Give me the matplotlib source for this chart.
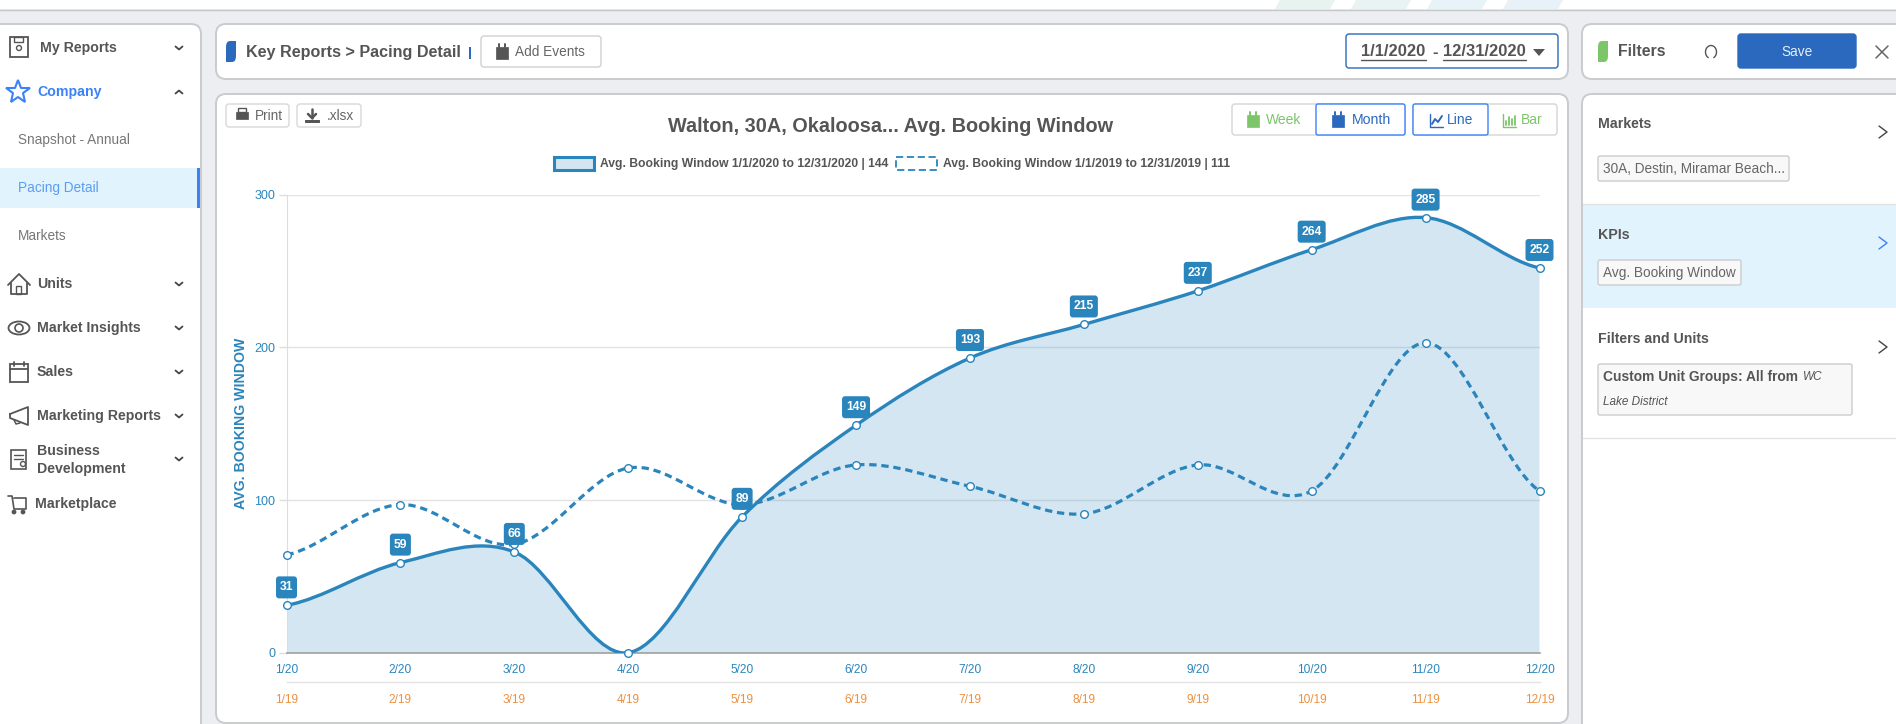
import matplotlib
matplotlib.use('Agg')
import matplotlib.pyplot as plt
from matplotlib.patches import FancyBboxPatch, Rectangle, Polygon, PathPatch, Circle, Ellipse
from matplotlib.path import Path
from matplotlib.transforms import IdentityTransform
import numpy as np

plt.rcParams['font.family'] = ['Liberation Sans', 'DejaVu Sans']

# chart data
labels_2020 = ['1/20', '2/20', '3/20', '4/20', '5/20', '6/20', '7/20', '8/20', '9/20', '10/20', '11/20', '12/20']
labels_2019 = ['1/19', '2/19', '3/19', '4/19', '5/19', '6/19', '7/19', '8/19', '9/19', '10/19', '11/19', '12/19']
values_2020 = [31, 59, 66, 0, 89, 149, 193, 215, 237, 264, 285, 252]
values_2019 = [64, 97, 71, 121, 97, 123, 109, 91, 123, 106, 203, 106]
y_ticks = [0, 100, 200, 300]

# page text
menu_items = ['My Reports', 'Company', 'Units', 'Market Insights', 'Sales', 'Marketing Reports', 'Marketplace']
legend_2020 = 'Avg. Booking Window 1/1/2020 to 12/31/2020 | 144'
legend_2019 = 'Avg. Booking Window 1/1/2019 to 12/31/2019 | 111'
chart_title = 'Walton, 30A, Okaloosa... Avg. Booking Window'

W, H = 1896, 724
BLUE = '#2a85bd'
BTN = '#2a69bd'
LINK = '#3b82f6'
GREEN = '#7cc569'
GREY = '#555555'
BORDER = '#c9cbcd'

fig = plt.figure(figsize=(W / 100, H / 100), dpi=100, facecolor='#eceef2')

# page axes in pixels, everything that is not the chart goes here
bg = fig.add_axes([0, 0, 1, 1])
bg.set_xlim(0, W)
bg.set_ylim(H, 0)
bg.axis('off')


def card(x0, y0, x1, y1, fc='white', ec=BORDER, lw=1.4, r=10, z=1):
    p = FancyBboxPatch((x0 + r, y0 + r), x1 - x0 - 2 * r, y1 - y0 - 2 * r,
                       boxstyle='round,pad=%d,rounding_size=%d' % (r, r), fc=fc, ec=ec, lw=lw, zorder=z)
    bg.add_patch(p)


def txt(x, y, s, size=9.8, color=GREY, weight='normal', ha='left', style='normal'):
    return bg.text(x, y, s, fontsize=size, color=color, fontweight=weight, ha=ha, va='center',
                   fontstyle=style, zorder=5)


def line(xs, ys, color=GREY, lw=1.2):
    bg.plot(xs, ys, color=color, lw=lw, zorder=5, solid_capstyle='round', solid_joinstyle='round')


def rect(x, y, w, h, fc='none', ec=GREY, lw=1.2):
    bg.add_patch(Rectangle((x, y), w, h, fc=fc, ec=ec, lw=lw, zorder=5))


def chevron(x, y, up=False, color='#444444'):
    d = -3 if up else 3
    line([x - 3.5, x, x + 3.5], [y - d / 2, y + d / 2, y - d / 2], color=color, lw=1.3)


def arrow_right(x, y, color='#444444'):
    line([x - 4, x + 4, x - 4], [y - 6, y, y + 6], color=color, lw=1)


def leaf(x0, y0, x1, y1, color):
    verts = [(x0, y1), (x1 - 4, y1), (x1, y1), (x1, y1 - 6), (x1, y0), (x0 + 4, y0), (x0, y0), (x0, y0 + 6),
             (x0, y1)]
    codes = [Path.MOVETO, Path.LINETO, Path.CURVE3, Path.CURVE3, Path.LINETO, Path.LINETO, Path.CURVE3, Path.CURVE3,
             Path.CLOSEPOLY]
    bg.add_patch(PathPatch(Path(verts, codes), fc=color, ec='none', zorder=5))


def small_cal(x, y, color):
    rect(x - 6, y - 6, 12, 12, fc=color, ec=color, lw=0.5)
    line([x - 3, x - 3], [y - 9, y - 6], color=color, lw=1.4)
    line([x + 3, x + 3], [y - 9, y - 6], color=color, lw=1.4)


# top bar with the faint stripes
bg.add_patch(Rectangle((0, 0), W, 9, fc='white', ec='none', zorder=1))
line([0, W], [9.5, 9.5], color='#c5c7c9', lw=1)
for x0, c in zip([1271, 1347, 1423, 1499], ['#e8f3f0', '#e8f3f2', '#e8f2f9', '#e9f1f8']):
    bg.add_patch(Polygon([(x0 + 4, 9), (x0 + 59, 9), (x0 + 64, 0), (x0 + 9, 0)], fc=c, ec='none', zorder=2))

# cards
card(-20, 24, 201, 760)
card(216, 24, 1568, 79)
card(216, 94, 1568, 723)
card(1582, 24, 1930, 79)
card(1582, 94, 1930, 760)

# sidebar
bg.add_patch(Rectangle((0, 168), 197, 40, fc='#e1f4fd', ec='none', zorder=2))
bg.add_patch(Rectangle((197, 168), 3, 40, fc=LINK, ec='none', zorder=3))
side_y = [48, 92, 284, 328, 372, 416, 504]
side_x = [40, 37, 37, 37, 37, 37, 35]
for name, x, y in zip(menu_items, side_x, side_y):
    txt(x, y, name, size=10.2, weight='bold', color=LINK if name == 'Company' else GREY)
txt(37, 451, 'Business', size=10.2, weight='bold')
txt(37, 469, 'Development', size=10.2, weight='bold')
txt(18, 140, 'Snapshot - Annual', color='#777777')
txt(18, 188, 'Pacing Detail', color='#5b9cf5')
txt(18, 236, 'Markets', color='#777777')
for y in [48, 284, 328, 372, 416, 459]:
    chevron(179, y)
chevron(179, 92, up=True)

# sidebar icons
rect(10, 37, 18, 20, lw=1.3)
rect(14, 37, 9, 5, lw=1)
bg.add_patch(Circle((19, 48), 2.5, fc='none', ec=GREY, lw=1, zorder=5))
bg.plot([18.5], [92], marker='*', ms=18, mfc='none', mec=LINK, mew=1.5, zorder=5)
line([8, 19, 30], [285, 274, 285], lw=1.3)
line([11, 11, 27, 27], [283, 294, 294, 283], lw=1.3)
rect(16, 286, 5, 8, lw=1)
bg.add_patch(Ellipse((19, 328), 21, 13, fc='none', ec=GREY, lw=1.3, zorder=5))
bg.add_patch(Circle((19, 328), 4, fc='none', ec=GREY, lw=1.2, zorder=5))
rect(10, 364, 18, 18, lw=1.3)
line([10, 28], [369, 369], lw=1.3)
line([14, 14], [362, 366], lw=1.3)
line([24, 24], [362, 366], lw=1.3)
line([10, 28, 28, 10, 10], [414, 407, 425, 418, 414], lw=1.3)
line([14, 16, 20], [420, 424, 423], lw=1.1)
rect(11, 450, 15, 19, lw=1.2)
line([14, 23], [455, 455], lw=1)
line([14, 23], [459, 459], lw=1)
bg.add_patch(Circle((23, 464), 2.5, fc='white', ec=GREY, lw=1, zorder=6))
line([8, 12, 14, 26, 26, 14], [496, 496, 509, 509, 498, 498], lw=1.2)
bg.add_patch(Circle((14, 512), 1.7, fc=GREY, ec=GREY, zorder=5))
bg.add_patch(Circle((23, 512), 1.7, fc=GREY, ec=GREY, zorder=5))

# header bar
leaf(226, 41, 236, 62, BTN)
txt(246, 52, 'Key Reports > Pacing Detail', size=11.6, weight='bold')
bg.add_patch(Rectangle((469, 47), 2, 12, fc=BTN, ec='none', zorder=5))
card(481, 36, 601, 67, ec='#d0d0d0', lw=1, r=3, z=4)
small_cal(502, 53, GREY)
txt(515, 52, 'Add Events', color='#666666')
card(1346, 34, 1558, 68, ec=BTN, lw=1, r=3, z=4)
txt(1361, 52, '1/1/2020', size=11.9, weight='bold')
txt(1432, 52, '-', size=11.9, weight='bold')
txt(1443, 52, '12/31/2020', size=11.9, weight='bold')
line([1361, 1426], [60, 60], lw=1)
line([1443, 1526], [60, 60], lw=1)
bg.add_patch(Polygon([(1533, 49), (1545, 49), (1539, 56)], fc=GREY, ec='none', zorder=5))

# filters header
leaf(1598, 41, 1608, 62, GREEN)
txt(1618, 52, 'Filters', size=11.4, weight='bold')
t = np.radians(np.arange(-60, 241, 10))
line(1711 + 5.5 * np.cos(t), 52 - 6.5 * np.sin(t), lw=1)
card(1738, 34, 1856, 68, fc=BTN, ec=BTN, lw=1, r=3, z=4)
txt(1797, 52, 'Save', color='#e6eefa', ha='center')
line([1876, 1888], [46, 58], color='#666666', lw=1.1)
line([1888, 1876], [46, 58], color='#666666', lw=1.1)

# print and excel buttons
card(226, 104, 289, 127, ec='#d8d8d8', lw=1, r=3, z=4)
rect(236, 112, 12, 7, fc=GREY, lw=0.5)
rect(238, 108, 8, 4, lw=1)
txt(255, 116, 'Print', color='#666666')
card(297, 104, 361, 127, ec='#d8d8d8', lw=1, r=3, z=4)
line([312, 312], [109, 118], lw=1.8)
line([308, 312, 316], [114, 118, 114], lw=1.8)
rect(305, 120, 14, 2, fc=GREY, lw=0.7)
txt(327, 116, '.xlsx', color='#666666')

# week / month / line / bar switches
card(1232, 104, 1405, 135, ec='#d5d5d5', lw=1, r=3, z=4)
card(1316, 104, 1405, 135, ec=LINK, lw=1, r=2, z=5)
card(1413, 104, 1557, 135, ec='#d5d5d5', lw=1, r=3, z=4)
card(1413, 104, 1488, 135, ec=LINK, lw=1, r=2, z=5)
small_cal(1253, 121, GREEN)
txt(1266, 120, 'Week', size=10, color=GREEN)
small_cal(1338, 121, BTN)
txt(1352, 120, 'Month', size=10.2, color=BTN)
line([1430, 1430, 1443], [114, 127, 127], color=BTN, lw=1)
line([1432, 1435, 1438, 1442], [124, 119, 122, 116], color=BTN, lw=1.4)
txt(1447, 120, 'Line', size=10, color=BTN)
line([1503, 1503, 1516], [114, 127, 127], color=GREEN, lw=1)
for bx, bt in zip([1506, 1509, 1512, 1515], [121, 117, 119, 116]):
    line([bx, bx], [bt, 125], color=GREEN, lw=1.3)
txt(1521, 120, 'Bar', size=10, color=GREEN)

# title and legend
txt(891, 126, chart_title, size=14.3, weight='bold', ha='center')
bg.add_patch(Rectangle((554, 157), 40, 13, fc='#d3e5f0', ec=BLUE, lw=2.2, zorder=5))
txt(600, 163.5, legend_2020, size=8.7, weight='bold')
bg.add_patch(Rectangle((896, 157), 41, 13, fc='white', ec=BLUE, lw=1.3, ls=(0, (4, 2)), zorder=5))
txt(943, 163.5, legend_2019, size=8.7, weight='bold')

# filters panel
txt(1598, 124, 'Markets', size=10.2, weight='bold')
arrow_right(1883, 132)
card(1598, 156, 1789, 181, fc='#f8f8f8', ec='#cccccc', lw=1, r=2, z=4)
txt(1603, 169, '30A, Destin, Miramar Beach...', color='#666666')
line([1583, W], [204, 204], color='#e2e2e2', lw=1)
bg.add_patch(Rectangle((1583, 204), W - 1583, 104, fc='#e1f4fd', ec='none', zorder=2))
txt(1598, 235, 'KPIs', size=10.2, weight='bold')
arrow_right(1883, 243, color=LINK)
card(1598, 260, 1741, 285, fc='#f8f8f8', ec='#cccccc', lw=1, r=2, z=4)
txt(1603, 273, 'Avg. Booking Window', color='#666666')
txt(1598, 339, 'Filters and Units', size=10.2, weight='bold')
arrow_right(1883, 347)
card(1598, 364, 1852, 415, fc='#f8f8f8', ec='#cccccc', lw=1, r=2, z=4)
txt(1603, 377, 'Custom Unit Groups: All from', size=9.9, weight='bold')
txt(1803, 377, 'WC', size=8.5, style='italic')
txt(1603, 402, 'Lake District', size=8.5, style='italic')
line([1583, W], [438, 438], color='#e2e2e2', lw=1)

# chart axes: pixel box of the plot area
left, right, top, bottom = 286.5, 1539.5, 194.7, 652.7
ax = fig.add_axes([left / W, 1 - bottom / H, (right - left) / W, (bottom - top) / H])
ax.patch.set_alpha(0)
ax.set_xlim(0, len(labels_2020) - 1)
ax.set_ylim(0, 300)


def spline_path(vals, close=False):
    # cardinal spline like the one the page draws
    n = len(vals)
    verts = [(0, vals[0])]
    codes = [Path.MOVETO]
    for i in range(n - 1):
        v0 = vals[max(i - 1, 0)]
        v3 = vals[min(i + 2, n - 1)]
        verts += [(i + 1 / 3, vals[i] + (vals[i + 1] - v0) / 6),
                  (i + 2 / 3, vals[i + 1] - (v3 - vals[i]) / 6),
                  (i + 1, vals[i + 1])]
        codes += [Path.CURVE4] * 3
    if close:
        verts += [(n - 1, 0), (0, 0), (0, vals[0])]
        codes += [Path.LINETO, Path.LINETO, Path.CLOSEPOLY]
    return Path(verts, codes)


x = np.arange(len(values_2020))
ax.set_yticks(y_ticks)
ax.grid(axis='y', color='#e3e3e3', lw=1)
ax.set_axisbelow(True)

ax.add_patch(PathPatch(spline_path(values_2020, close=True), fc=BLUE, alpha=0.2, ec='none', zorder=2))
ax.add_patch(PathPatch(spline_path(values_2020), fc='none', ec=BLUE, lw=2.4, zorder=3))
ax.add_patch(PathPatch(spline_path(values_2019), fc='none', ec=BLUE, lw=2.3, ls=(0, (2.3, 1.5)), zorder=3))
ax.plot(x, values_2019, ls='none', marker='o', ms=5.5, mfc='white', mec=BLUE, mew=1, zorder=4, clip_on=False)
ax.plot(x, values_2020, ls='none', marker='o', ms=5.5, mfc='white', mec=BLUE, mew=1, zorder=4, clip_on=False)

# value badges, fixed size in pixels above each 2020 point (the zero month has none)
for xi, v in zip(x, values_2020):
    if v == 0:
        continue
    px, py = ax.transData.transform((xi, v))
    bw = 28 if v >= 100 else 21
    ax.add_patch(FancyBboxPatch((px - bw / 2 + 3, py + 7 + 3), bw - 6, 22 - 6, boxstyle='round,pad=3,rounding_size=3',
                                fc=BLUE, ec='none', transform=IdentityTransform(), clip_on=False, zorder=6))
    ax.annotate(str(v), (xi, v), xytext=(0, 18), textcoords='offset pixels', ha='center', va='center',
                color='white', fontsize=8.7, fontweight='bold', zorder=7, annotation_clip=False)

ax.set_xticks(x)
ax.set_xticklabels(labels_2020, color=BLUE, fontsize=8.6)
ax.tick_params(axis='x', length=0, pad=7.8)
ax.tick_params(axis='y', colors=BLUE, labelsize=9, length=6, width=1, color='#dddddd', pad=2)
for s in ['top', 'right']:
    ax.spines[s].set_visible(False)
ax.spines['left'].set_color('#dddddd')
ax.spines['bottom'].set_color('#a0a0a0')
ax.spines['bottom'].set_linewidth(1.2)
ax.set_ylabel('AVG. BOOKING WINDOW', color=BLUE, fontsize=10.2, fontweight='bold')
ax.yaxis.set_label_coords((248 - left) / (right - left), 1 - (423 - top) / (bottom - top))

# second row of month labels under the axis
trans = ax.get_xaxis_transform()
y_row = -(700 - bottom) / (bottom - top)
y_sep = -(682 - bottom) / (bottom - top)
ax.plot([0, 11], [y_sep, y_sep], color='#e3e3e3', lw=1, transform=trans, clip_on=False)
for xi, lab in zip(x, labels_2019):
    ax.text(xi, y_row, lab, color='#ec9140', fontsize=8.6, ha='center', va='center', transform=trans)

fig.savefig('out.png', dpi=100, facecolor=fig.get_facecolor())
